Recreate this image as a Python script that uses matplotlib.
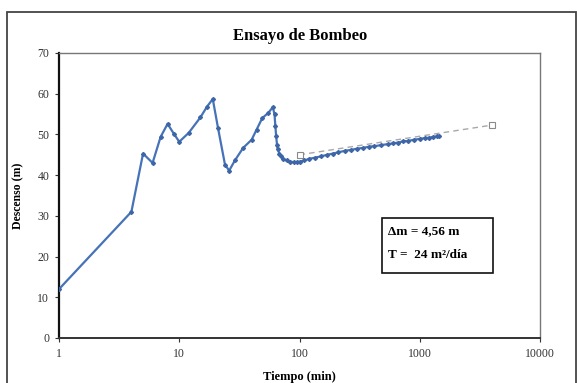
import matplotlib
matplotlib.use("Agg")
import matplotlib.pyplot as plt
from matplotlib.patches import Rectangle

# Data
tiempo = [1, 4, 5, 6, 7, 8, 9, 10, 12, 15, 17, 19, 21, 24, 26, 29, 34, 40, 44, 49, 55, 60,
          62, 63, 64, 65, 66, 68, 70, 73, 78, 83, 90, 95, 100, 110, 120, 135, 150, 170, 190,
          210, 240, 270, 300, 340, 380, 420, 480, 540, 600, 660, 730, 800, 900, 1000, 1100,
          1200, 1300, 1400, 1450]
descenso = [12, 31, 45.3, 43, 49.4, 52.6, 50.2, 48.2, 50.4, 54.2, 56.8, 58.7, 51.6, 42.6, 41.1,
            43.6, 46.7, 48.7, 51.2, 54.0, 55.3, 56.7,
            54.9, 52.0, 49.5, 47.5, 46.3, 45.3, 44.6, 44.0, 43.6, 43.3, 43.2, 43.2, 43.3, 43.6,
            44.0, 44.3, 44.6, 45.0, 45.3, 45.6, 46.0, 46.2, 46.5, 46.7, 47.0, 47.1, 47.4, 47.6,
            47.8, 48.0, 48.3, 48.4, 48.7, 48.9, 49.1, 49.2, 49.4, 49.5, 49.6]

recta_t = [100, 4000]
recta_s = [45.0, 52.3]

x_ticks = [1, 10, 100, 1000, 10000]
x_ticklabels = ["1", "10", "100", "1000", "10000"]
y_ticks = [0, 10, 20, 30, 40, 50, 60, 70]

serif = "Liberation Serif"
plt.rcParams["font.family"] = [serif, "DejaVu Serif"]

fig = plt.figure(figsize=(5.77, 3.83), dpi=100)
ax = fig.add_axes([59 / 577, 1 - 338 / 383, (540 - 59) / 577, (338 - 53) / 383])

ax.plot(recta_t, recta_s, color="#a8a8a8", lw=1.0, ls=(0, (4, 3)), marker="s",
        markersize=4.5, markerfacecolor="white", markeredgecolor="#8a8a8a",
        markeredgewidth=0.8, zorder=2)
ax.plot(tiempo, descenso, color="#4672b8", lw=1.6, marker="D", markersize=2.0,
        markerfacecolor="#3d66a8", markeredgecolor="#3d66a8", zorder=3)

ax.set_xscale("log")
ax.set_xlim(1, 10000)
ax.set_ylim(0, 70)
ax.set_xticks(x_ticks)
ax.set_xticklabels(x_ticklabels)
ax.xaxis.set_minor_locator(matplotlib.ticker.NullLocator())
ax.set_yticks(y_ticks)

ax.tick_params(axis="both", direction="out", length=3, width=0.8, labelsize=8.5,
               labelcolor="#333333", color="#333333", pad=4)

ax.spines["left"].set_linewidth(1.6)
ax.spines["left"].set_color("#111111")
ax.spines["bottom"].set_linewidth(1.4)
ax.spines["bottom"].set_color("#333333")
for s in ("top", "right"):
    ax.spines[s].set_linewidth(1.0)
    ax.spines[s].set_color("#777777")

ax.set_xlabel("Tiempo (min)", fontsize=9, fontweight="bold", labelpad=8)
ax.set_ylabel("Descenso (m)", fontsize=8.5, fontweight="bold", labelpad=9)
fig.text(0.52, 1 - 36 / 383, "Ensayo de Bombeo", ha="center", va="center",
         fontsize=12, fontweight="bold")

# Annotation box
ax.add_patch(Rectangle((0.6715, 0.229), 0.2305, 0.193, transform=ax.transAxes,
                       fill=False, edgecolor="#111111", lw=1.2, zorder=4))
ax.text(0.685, 0.375, "\u0394m = 4,56 m", transform=ax.transAxes, fontsize=9.5,
        fontweight="bold", va="center", ha="left")
ax.text(0.685, 0.29, "T =  24 m\u00b2/día", transform=ax.transAxes, fontsize=9.5,
        fontweight="bold", va="center", ha="left")

# Outer frame
fig.add_artist(Rectangle((7 / 577, -0.05), (576 - 7) / 577, 1.05 - 12.5 / 383,
                         transform=fig.transFigure, fill=False, edgecolor="#444444",
                         lw=1.3))

fig.savefig("out.png", dpi=100)
